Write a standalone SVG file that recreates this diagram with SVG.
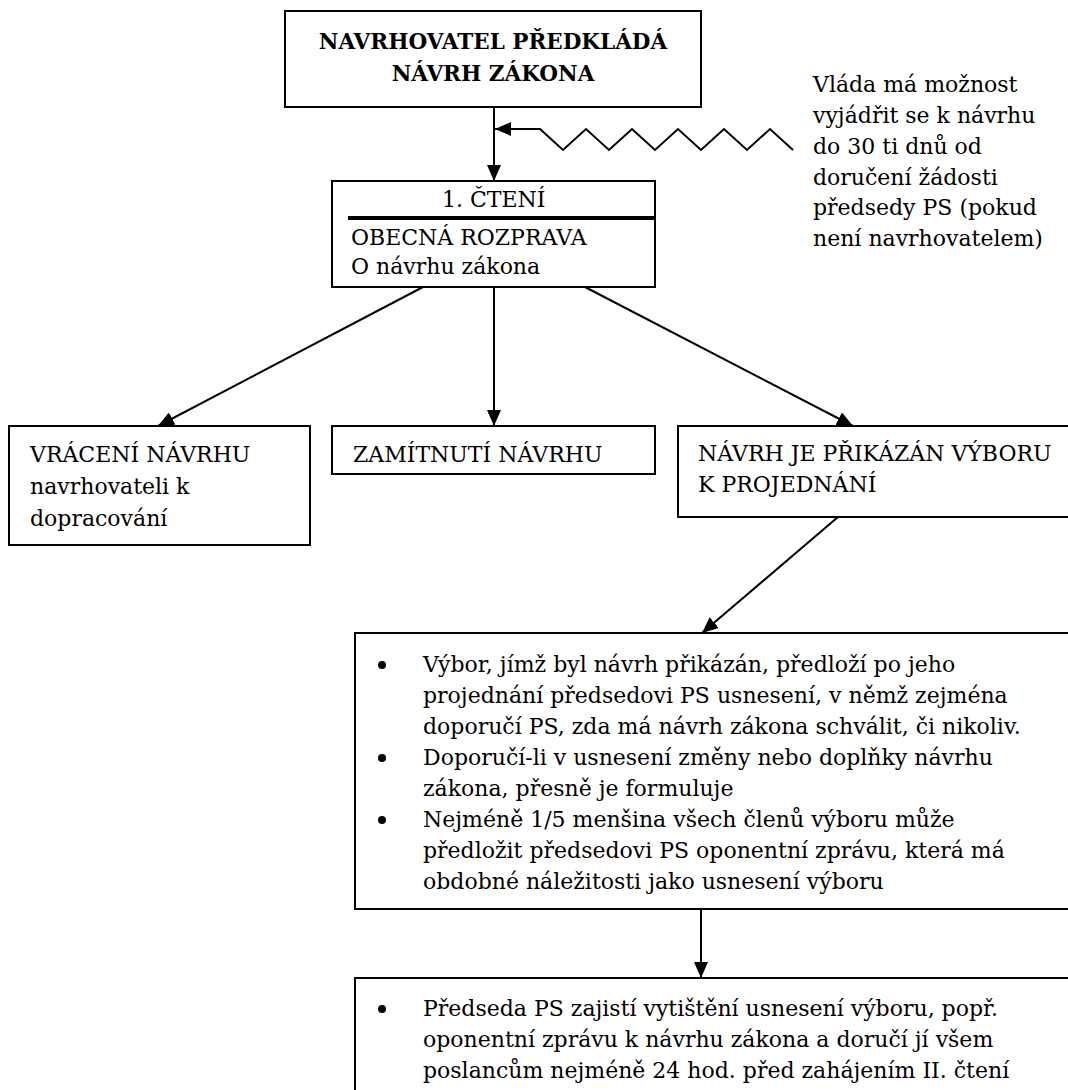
<svg xmlns="http://www.w3.org/2000/svg" width="1068" height="1090" viewBox="0 0 1068 1090">
  <defs>
    <marker id="arrow" markerUnits="userSpaceOnUse" markerWidth="16" markerHeight="14" refX="16" refY="7" orient="auto">
      <path d="M0,0 L16,7 L0,14 Z" fill="#000"/>
    </marker>
    <style>
      .box { fill: #fff; stroke: #000; stroke-width: 2; }
      .conn { fill: none; stroke: #000; stroke-width: 2; marker-end: url(#arrow); }
      text { font-family: "DejaVu Serif", "Liberation Serif", serif; font-size: 22px; fill: #000; }
      .title { font-weight: bold; font-size: 21.5px; text-anchor: middle; }
      .bullet { fill: #000; }
    </style>
  </defs>

  <rect width="1068" height="1090" fill="#fff"/>

  <!-- connectors -->
  <g id="connectors">
    <line class="conn" x1="494" y1="107" x2="494" y2="181"/>
    <polyline class="conn" points="793,150 770,129 747,150 724,129 701,150 678,129 655,150 632,129 609,150 586,129 563,150 540,129 495,129"/>
    <line class="conn" x1="423" y1="287" x2="158" y2="426"/>
    <line class="conn" x1="494" y1="287" x2="494" y2="426"/>
    <line class="conn" x1="585" y1="287" x2="853" y2="426"/>
    <line class="conn" x1="838" y1="517" x2="702" y2="633"/>
    <line class="conn" x1="701" y1="909" x2="701" y2="978"/>
  </g>

  <!-- proposer submits the bill -->
  <g id="node-navrhovatel">
    <rect class="box" x="285" y="11" width="416" height="96"/>
    <text class="title" x="493" y="49">NAVRHOVATEL PŘEDKLÁDÁ</text>
    <text class="title" x="493" y="81">NÁVRH ZÁKONA</text>
  </g>

  <!-- government note -->
  <g id="note-vlada">
    <text x="813" y="92">Vláda má možnost</text>
    <text x="813" y="123">vyjádřit se k návrhu</text>
    <text x="813" y="154">do 30 ti dnů od</text>
    <text x="813" y="185">doručení žádosti</text>
    <text x="813" y="215">předsedy PS (pokud</text>
    <text x="813" y="246">není navrhovatelem)</text>
  </g>

  <!-- first reading -->
  <g id="node-prvni-cteni">
    <rect class="box" x="332" y="181" width="323" height="106"/>
    <text x="442" y="207">1. ČTENÍ</text>
    <line x1="348" y1="218" x2="655" y2="218" stroke="#000" stroke-width="4"/>
    <text x="351" y="245">OBECNÁ ROZPRAVA</text>
    <text x="351" y="274">O návrhu zákona</text>
  </g>

  <!-- outcomes -->
  <g id="node-vraceni">
    <rect class="box" x="9" y="426" width="301" height="119"/>
    <text x="30" y="462">VRÁCENÍ NÁVRHU</text>
    <text x="30" y="494">navrhovateli k</text>
    <text x="30" y="526">dopracování</text>
  </g>

  <g id="node-zamitnuti">
    <rect class="box" x="332" y="426" width="323" height="48"/>
    <text x="353" y="462">ZAMÍTNUTÍ NÁVRHU</text>
  </g>

  <g id="node-prikazan">
    <rect class="box" x="678" y="426" width="400" height="91"/>
    <text x="698" y="461">NÁVRH JE PŘIKÁZÁN VÝBORU</text>
    <text x="698" y="492">K PROJEDNÁNÍ</text>
  </g>

  <!-- committee -->
  <g id="node-vybor">
    <rect class="box" x="355" y="633" width="723" height="276"/>
    <circle class="bullet" cx="382" cy="665" r="4"/>
    <circle class="bullet" cx="382" cy="758" r="4"/>
    <circle class="bullet" cx="382" cy="820" r="4"/>
    <text x="423" y="672">Výbor, jímž byl návrh přikázán, předloží po jeho</text>
    <text x="423" y="703">projednání předsedovi PS usnesení, v němž zejména</text>
    <text x="423" y="734">doporučí PS, zda má návrh zákona schválit, či nikoliv.</text>
    <text x="423" y="765">Doporučí-li v usnesení změny nebo doplňky návrhu</text>
    <text x="423" y="796">zákona, přesně je formuluje</text>
    <text x="423" y="827">Nejméně 1/5 menšina všech členů výboru může</text>
    <text x="423" y="858">předložit předsedovi PS oponentní zprávu, která má</text>
    <text x="423" y="889">obdobné náležitosti jako usnesení výboru</text>
  </g>

  <!-- chairman -->
  <g id="node-predseda">
    <rect class="box" x="355" y="978" width="723" height="130"/>
    <circle class="bullet" cx="382" cy="1009" r="4"/>
    <text x="423" y="1016">Předseda PS zajistí vytištění usnesení výboru, popř.</text>
    <text x="423" y="1047">oponentní zprávu k návrhu zákona a doručí jí všem</text>
    <text x="423" y="1078">poslancům nejméně 24 hod. před zahájením II. čtení</text>
  </g>
</svg>
